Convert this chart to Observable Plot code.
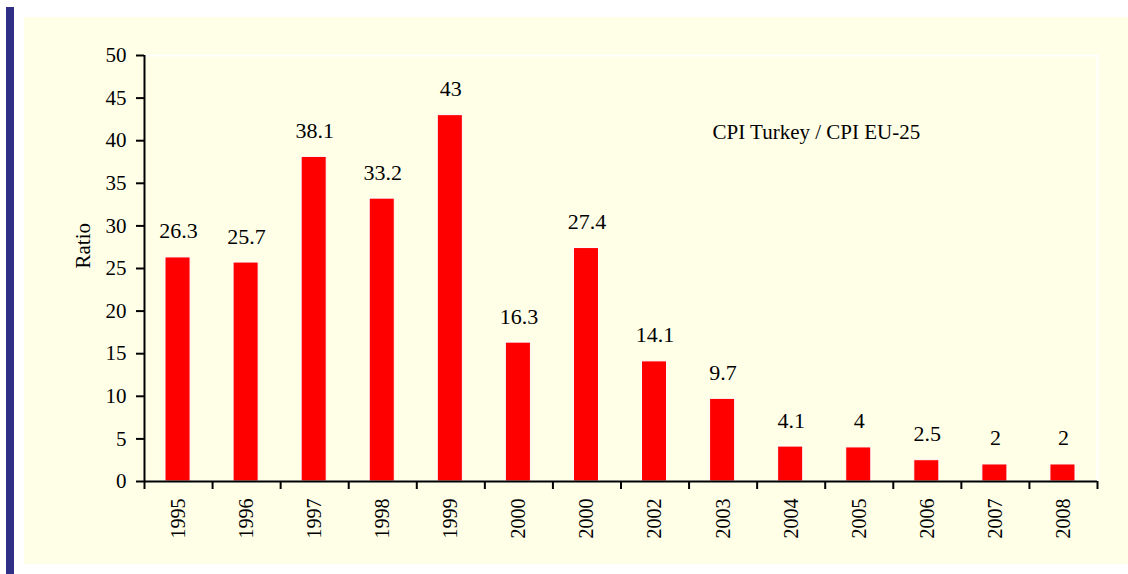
<!DOCTYPE html>
<html>
<head>
<meta charset="utf-8">
<script src="https://cdn.jsdelivr.net/npm/d3@7"></script>
<script src="https://cdn.jsdelivr.net/npm/@observablehq/plot@0.6"></script>
<style>
  html, body { margin: 0; padding: 0; background: #ffffff; width: 1128px; height: 574px; overflow: hidden; }
  #bar { position: absolute; left: 6px; top: 7px; width: 8px; height: 567px; background: #2f2f86; }
  #panel { position: absolute; left: 24px; top: 17px; width: 1104px; height: 547px; background: #ffffe8; }
  #chart { position: absolute; left: 0; top: 0; }
  #chart svg { background: none !important; }
  #chart svg, #chart svg text, #chart svg g { font-family: "Liberation Serif", "DejaVu Serif", serif !important; }
</style>
</head>
<body>
<div id="bar"></div>
<div id="panel"></div>
<div id="chart"></div>
<script>
const years = ["1995","1996","1997","1998","1999","2000","2000","2002","2003","2004","2005","2006","2007","2008"];
const values = [26.3, 25.7, 38.1, 33.2, 43, 16.3, 27.4, 14.1, 9.7, 4.1, 4, 2.5, 2, 2];
const yTicks = [0, 5, 10, 15, 20, 25, 30, 35, 40, 45, 50];
const yLabel = "Ratio";
const annotation = "CPI Turkey / CPI EU-25";

const rows = years.map((y, i) => ({i, year: y, value: values[i]}));
const serif = "Liberation Serif, DejaVu Serif, serif";

const chart = Plot.plot({
  width: 1128,
  height: 574,
  marginLeft: 144,
  marginRight: 31,
  marginTop: 55,
  marginBottom: 93,
  style: {background: "none", color: "#000", fontFamily: serif},
  x: {type: "linear", domain: [0, years.length]},
  y: {domain: [0, 50]},
  marks: [
    Plot.frame({stroke: "white", strokeWidth: 2}),
    Plot.rectY(rows, {x1: "i", x2: d => d.i + 1, y: "value", fill: "#ff0000", stroke: "white", strokeWidth: 1, insetLeft: 21, insetRight: 22}),
    Plot.text(rows, {x: d => d.i + 0.5, y: "value", text: d => String(d.value), lineAnchor: "bottom", dy: -19, fontSize: 22, fontFamily: serif, fill: "#000"}),
    Plot.ruleX([0], {stroke: "#000", strokeWidth: 2}),
    Plot.ruleY([0], {stroke: "#000", strokeWidth: 2}),
    Plot.axisY({ticks: yTicks, tickSize: 8, tickPadding: 10, fontSize: 21, fontFamily: serif, label: null, strokeWidth: 2}),
    Plot.axisX({ticks: d3.range(years.length + 1), tickSize: 8, tickFormat: () => "", label: null, strokeWidth: 2}),
    Plot.axisX(d3.range(years.length).map(i => i + 0.5), {tickSize: 0, tickPadding: 17, tickRotate: -90, tickFormat: d => years[Math.floor(d)], fontSize: 20, fontFamily: serif, label: null}),
    Plot.text([yLabel], {frameAnchor: "left", rotate: -90, dx: -61, fontSize: 21, fontFamily: serif, fill: "#000"}),
    Plot.text([annotation], {frameAnchor: "top-left", dx: 568, dy: 83, textAnchor: "start", lineAnchor: "bottom", fontSize: 21, fontFamily: serif, fill: "#000"})
  ]
});
document.getElementById("chart").appendChild(chart);
</script>
</body>
</html>
